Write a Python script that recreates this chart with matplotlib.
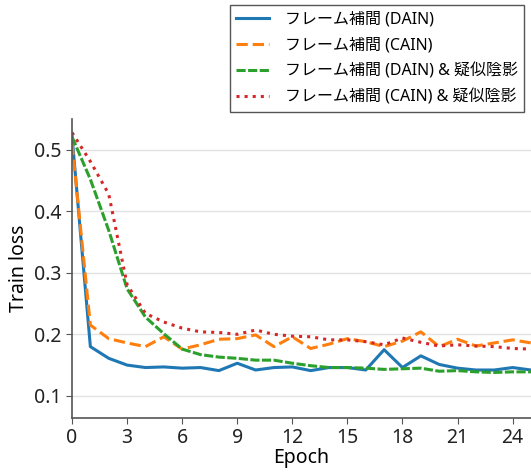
import matplotlib
matplotlib.use('Agg')
import matplotlib.pyplot as plt
import numpy as np

plt.rcParams['font.family'] = ['Noto Sans', 'Noto Sans CJK JP', 'DejaVu Sans']

epochs = np.arange(26)

# train loss per epoch
loss_dain = [0.523, 0.180, 0.161, 0.150, 0.146, 0.147, 0.145, 0.146, 0.141, 0.153,
             0.142, 0.146, 0.147, 0.141, 0.146, 0.146, 0.142, 0.175, 0.146, 0.165,
             0.151, 0.145, 0.142, 0.142, 0.146, 0.142]
loss_cain = [0.510, 0.215, 0.193, 0.186, 0.180, 0.196, 0.176, 0.183, 0.192, 0.193,
             0.199, 0.180, 0.196, 0.177, 0.184, 0.193, 0.188, 0.180, 0.189, 0.204,
             0.180, 0.192, 0.181, 0.186, 0.191, 0.186]
loss_dain_shade = [0.521, 0.452, 0.369, 0.274, 0.228, 0.201, 0.176, 0.167, 0.163, 0.161,
                   0.158, 0.158, 0.153, 0.149, 0.146, 0.146, 0.145, 0.143, 0.144, 0.145,
                   0.140, 0.141, 0.139, 0.138, 0.139, 0.139]
loss_cain_shade = [0.528, 0.481, 0.428, 0.281, 0.234, 0.220, 0.210, 0.204, 0.203, 0.200,
                   0.207, 0.200, 0.197, 0.196, 0.191, 0.191, 0.188, 0.183, 0.194, 0.187,
                   0.181, 0.183, 0.181, 0.180, 0.177, 0.176]

labels = ['フレーム補間 (DAIN)', 'フレーム補間 (CAIN)',
          'フレーム補間 (DAIN) & 疑似陰影', 'フレーム補間 (CAIN) & 疑似陰影']

fig = plt.figure(figsize=(5.31, 4.73), dpi=100)
ax = fig.add_axes([0.1356, 0.1163, 0.8644, 0.6321])

ax.plot(epochs, loss_dain, color='#1f77b4', lw=2.2, ls='-', label=labels[0])
ax.plot(epochs, loss_cain, color='#ff7f0e', lw=2.2, ls='--', label=labels[1])
ax.plot(epochs, loss_dain_shade, color='#2ca02c', lw=2.2, ls=(0, (3, 0.8)), label=labels[2])
ax.plot(epochs, loss_cain_shade, color='#d62728', lw=2.2, ls=':', label=labels[3])

ax.set_xlim(0, 25)
ax.set_ylim(0.064, 0.55)
ax.set_xticks(np.arange(0, 25, 3))
ax.set_yticks([0.1, 0.2, 0.3, 0.4, 0.5])
ax.yaxis.grid(True, color='#e3e3e3', lw=1)
ax.set_axisbelow(True)
for s in ['top', 'right']:
    ax.spines[s].set_visible(False)
for s in ['left', 'bottom']:
    ax.spines[s].set_color('#555555')
    ax.spines[s].set_linewidth(1.2)
ax.tick_params(axis='both', labelsize=14, colors='#222222', length=4, color='#555555')
ax.set_xlabel('Epoch', fontsize=14, labelpad=0)
ax.set_ylabel('Train loss', fontsize=14)

fig.legend(loc='upper right', bbox_to_anchor=(524 / 531, 1 - 5 / 473), fontsize=11.5,
           fancybox=False, edgecolor='#555555', framealpha=1, labelspacing=0.62,
           handlelength=2.1, handletextpad=0.95, borderaxespad=0)

fig.savefig('out.png', dpi=100)
